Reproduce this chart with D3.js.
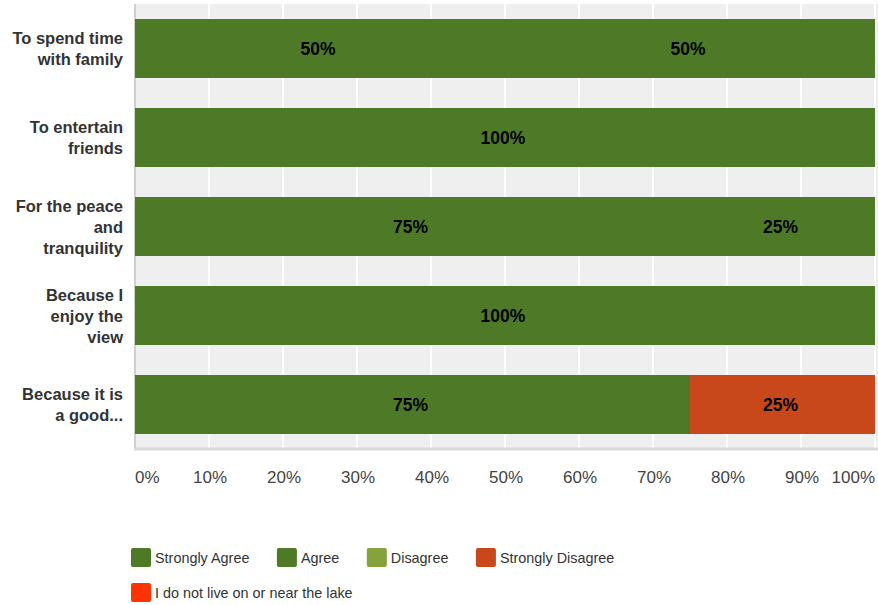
<!DOCTYPE html>
<html><head><meta charset="utf-8">
<script src="https://cdn.jsdelivr.net/npm/d3@7"></script>
<style>body{margin:0;background:#fff;}svg{display:block;font-family:"Liberation Sans",Arial,sans-serif;}</style>
</head><body>
<svg id="chart" width="878" height="605"></svg>
<script>
const categories = [
  ["To spend time", "with family"],
  ["To entertain", "friends"],
  ["For the peace", "and", "tranquility"],
  ["Because I", "enjoy the", "view"],
  ["Because it is", "a good..."]
];
const seriesNames = ["Strongly Agree", "Agree", "Disagree", "Strongly Disagree", "I do not live on or near the lake"];
const seriesColors = ["#4e7a28", "#4e7a28", "#86a23c", "#c8471b", "#ff3300"];
const stronglyAgree = [50, 100, 75, 100, 75];
const agree = [50, 0, 25, 0, 0];
const disagree = [0, 0, 0, 0, 0];
const stronglyDisagree = [0, 0, 0, 0, 25];
const notLive = [0, 0, 0, 0, 0];
const tickValues = [0, 10, 20, 30, 40, 50, 60, 70, 80, 90, 100];

(function () {
const series = [stronglyAgree, agree, disagree, stronglyDisagree, notLive];
const rows = categories.map((c, i) => {
  const o = {key: i};
  seriesNames.forEach((s, j) => o[s] = series[j][i]);
  return o;
});
const stacked = d3.stack().keys(seriesNames)(rows);

const svg = d3.select("#chart");
const pLeft = 135, pRight = 875, pTop = 4, pBottom = 449;
const x = d3.scaleLinear().domain([0, 100]).range([pLeft, pRight]);
const y = d3.scaleBand().domain(d3.range(categories.length)).range([pTop, pBottom]).paddingInner(30/89).paddingOuter(15/89);

svg.append("rect").attr("x", pLeft).attr("y", pTop).attr("width", 878 - pLeft).attr("height", pBottom - pTop).attr("fill", "#efefef");

svg.append("g").selectAll("line").data(tickValues.slice(1)).join("line")
  .attr("x1", d => x(d)).attr("x2", d => x(d)).attr("y1", pTop).attr("y2", pBottom)
  .attr("stroke", "#fff").attr("stroke-width", 2);

svg.append("line").attr("x1", pLeft).attr("x2", pLeft).attr("y1", pTop).attr("y2", pBottom + 1)
  .attr("stroke", "#cfcfcf").attr("stroke-width", 2);
svg.append("line").attr("x1", pLeft - 1).attr("x2", 878).attr("y1", pBottom).attr("y2", pBottom)
  .attr("stroke", "#d9d9d9").attr("stroke-width", 3);

const g = svg.append("g");
stacked.forEach((layer, j) => {
  g.append("g").selectAll("rect").data(layer.filter(d => d[1] > d[0])).join("rect")
    .attr("x", d => x(d[0])).attr("width", d => x(d[1]) - x(d[0]))
    .attr("y", d => y(d.data.key)).attr("height", y.bandwidth())
    .attr("fill", seriesColors[j]);
  g.append("g").selectAll("text").data(layer.filter(d => d[1] > d[0])).join("text")
    .attr("x", d => (x(d[0]) + x(d[1])) / 2 - 2)
    .attr("y", d => y(d.data.key) + y.bandwidth() / 2 + 6)
    .attr("text-anchor", "middle").attr("font-size", 17.5).attr("font-weight", "bold").attr("fill", "#000")
    .text(d => (d[1] - d[0]) + "%");
});

const cl = svg.append("g");
categories.forEach((lines, i) => {
  const cy = y(i) + y.bandwidth() / 2;
  const lh = 21;
  const start = cy - (lines.length - 1) * lh / 2 + 6;
  lines.forEach((t, k) => {
    cl.append("text").attr("x", 123).attr("y", start + k * lh)
      .attr("text-anchor", "end").attr("font-size", 16.5).attr("font-weight", "bold").attr("fill", "#333")
      .text(t);
  });
});

svg.append("g").selectAll("text").data(tickValues).join("text")
  .attr("x", (d, i) => (i === 0 || i === tickValues.length - 1) ? x(d) : x(d) + 1)
  .attr("y", 483)
  .attr("text-anchor", (d, i) => i === 0 ? "start" : (i === tickValues.length - 1 ? "end" : "middle"))
  .attr("font-size", 17).attr("fill", "#444")
  .text(d => d + "%");

const lg = svg.append("g");
let lx = 131, ly = 548;
const maxX = 860;
seriesNames.forEach((name, j) => {
  const item = lg.append("g");
  item.append("rect").attr("width", 20).attr("height", 19).attr("rx", 2).attr("fill", seriesColors[j]);
  const t = item.append("text").attr("x", 24).attr("y", 15).attr("font-size", 14.4).attr("fill", "#333").text(name);
  const w = 24 + t.node().getComputedTextLength();
  if (lx + w > maxX) { lx = 131; ly += 35; }
  item.attr("transform", `translate(${lx},${ly})`);
  lx += w + 27.5;
});
})();
</script>
</body></html>
